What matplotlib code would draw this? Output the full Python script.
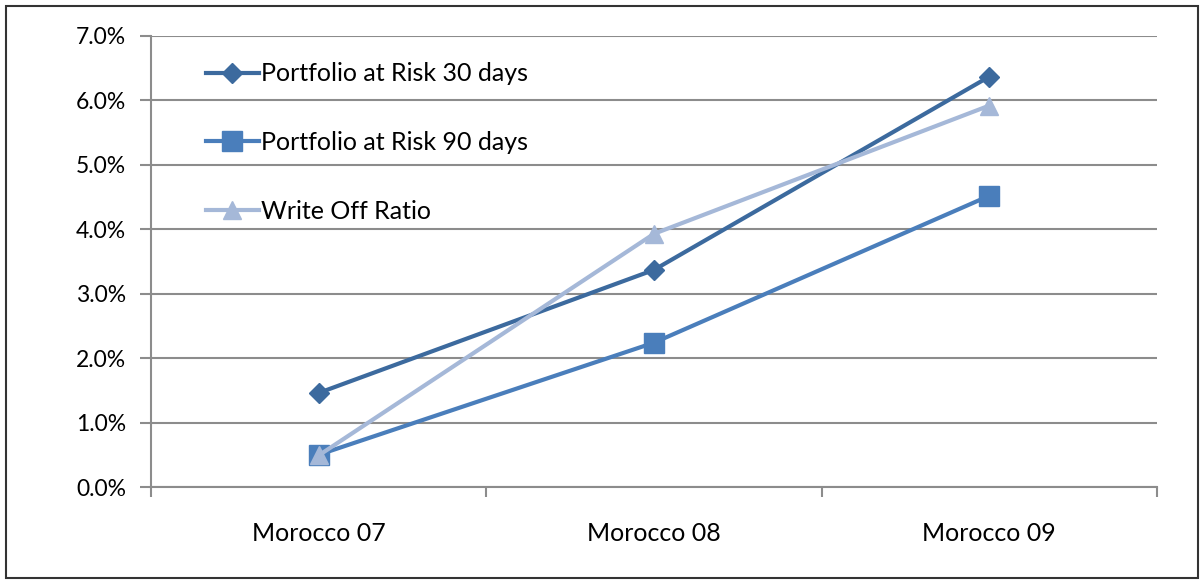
import numpy as np
import matplotlib.pyplot as plt
from matplotlib.ticker import FuncFormatter

## Data
categories = ['Morocco 07', 'Morocco 08', 'Morocco 09']
par30 = [1.46, 3.37, 6.37]        # Portfolio at Risk 30 days (%)
par90 = [0.50, 2.24, 4.52]        # Portfolio at Risk 90 days (%)
write_off = [0.49, 3.93, 5.92]    # Write Off Ratio (%)
yticks = [0, 1, 2, 3, 4, 5, 6, 7]

plt.rcParams['font.family'] = ['Lato', 'DejaVu Sans']

fig = plt.figure(figsize=(12.03, 5.83), dpi=100)
ax = fig.add_axes([151/1203, 1 - 487/583, (1157-151)/1203, (487-36)/583])

x = np.arange(len(categories))
ax.plot(x, par30, color='#3c6a9e', lw=3, marker='D', ms=10, label='Portfolio at Risk 30 days', zorder=3)
ax.plot(x, par90, color='#4a7ebb', lw=3, marker='s', ms=14, label='Portfolio at Risk 90 days', zorder=4)
ax.plot(x, write_off, color='#a5b8d8', lw=3, marker='^', ms=13, label='Write Off Ratio', zorder=5)

ax.set_xlim(-0.5, 2.5)
ax.set_ylim(0, 7)
ax.set_yticks(yticks)
ax.yaxis.set_major_formatter(FuncFormatter(lambda v, p: '%.1f%%' % v))
ax.set_xticks(x)
ax.set_xticklabels(categories)
ax.set_xticks([-0.5, 0.5, 1.5, 2.5], minor=True)
ax.tick_params(axis='x', which='major', length=0, pad=25, labelsize=18)
ax.tick_params(axis='x', which='minor', length=7, width=1.5, color='#8c8c8c')
ax.tick_params(axis='y', length=8, width=1.5, color='#8c8c8c', labelsize=16.5, pad=10)

ax.yaxis.grid(True, color='#8c8c8c', lw=1.5)
ax.set_axisbelow(True)
for s in ['top', 'right']:
    ax.spines[s].set_visible(False)
for s in ['left', 'bottom']:
    ax.spines[s].set_color('#8c8c8c')
    ax.spines[s].set_linewidth(1.5)

ax.legend(loc='upper left', bbox_to_anchor=(0.03, 0.997), frameon=False, fontsize=18,
          labelspacing=1.83, handlelength=2.1, handletextpad=0.1, borderaxespad=0.6)

# outer frame
fig.patches.append(plt.Rectangle((6/1203, 5/583), 1192/1203, 572/583, transform=fig.transFigure,
                                 fill=False, edgecolor='#333333', lw=1.5))

fig.savefig('out.png', dpi=100)
